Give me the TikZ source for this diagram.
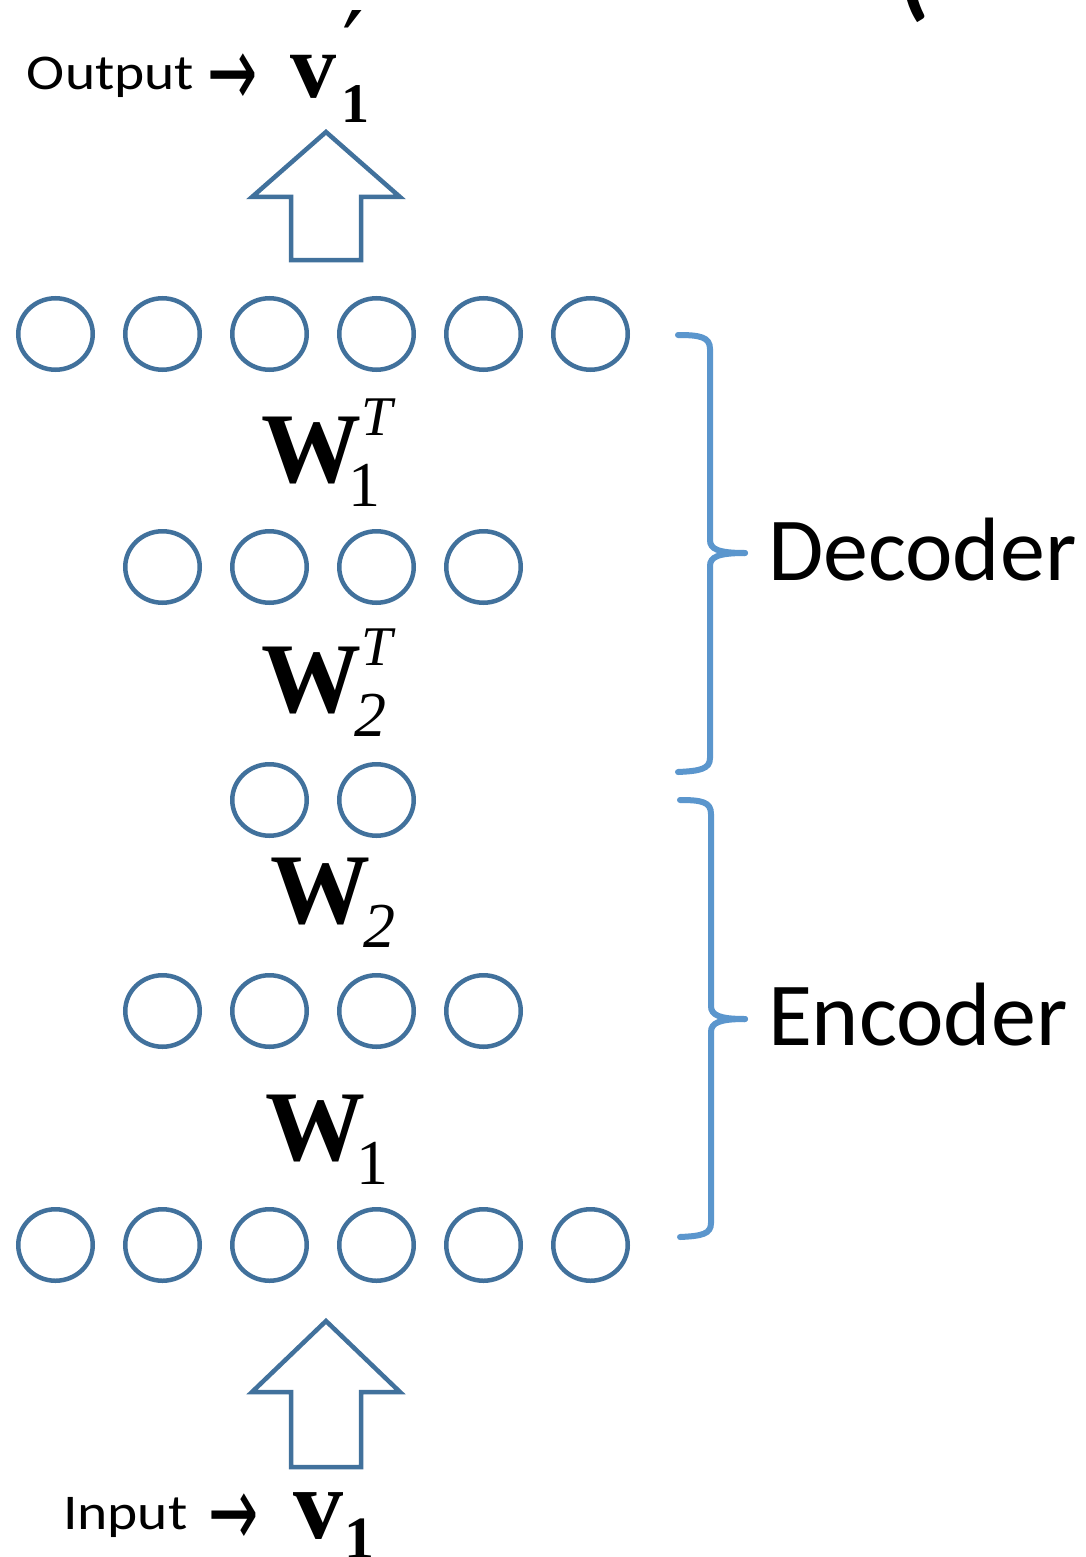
\documentclass[tikz,border=0pt]{standalone}
\usepackage{fontspec}
\usetikzlibrary{shapes.geometric}
\setmainfont{Carlito}
\newfontfamily\serifmath{Liberation Serif}
\newfontfamily\primefont{DejaVu Serif}
\newfontfamily\arrowsym{DejaVu Sans}
\definecolor{unitblue}{RGB}{65,113,156}
\definecolor{braceblue}{RGB}{91,150,205}

% bold weight matrix with optional transpose mark and index
\newcommand\weightlabel[3]{{\serifmath\fontsize{100}{100}\selectfont\bfseries W\mdseries
  \rlap{\raisebox{47pt}{\fontsize{56}{56}\selectfont\itshape #2}}%
  \kern#3\raisebox{-24pt}{\fontsize{64}{64}\selectfont #1}}}
% the arrow that follows "Output" and "Input"
\newcommand\pointer{{\arrowsym\fontsize{50}{50}\selectfont
  \raisebox{-17pt}{\scalebox{1.2}[2.0]{→}}}}

\begin{document}
\begin{tikzpicture}[x=1pt,y=-1pt,
  unit/.style={ellipse,draw=unitblue,line width=4.5pt,minimum width=74.5pt,
    minimum height=71.5pt,inner sep=0pt},
  blockarrow/.style={draw=unitblue,fill=white,line width=4.5pt,line join=miter},
  bracket/.style={draw=braceblue,line width=6pt,line cap=round},
  txt/.style={anchor=base west,inner sep=0pt,outer sep=0pt}]
\useasboundingbox[fill=white] (0,0) rectangle (1086,1557);

% layers of units
\foreach \i in {1,...,6} \node[unit] (out\i) at ({55.5+107*(\i-1)},334) {};
\foreach \i in {2,...,5} \node[unit] (dec\i) at ({55.5+107*(\i-1)},567) {};
\foreach \i in {3,4}     \node[unit] (code\i) at ({55.5+107*(\i-1)},800) {};
\foreach \i in {2,...,5} \node[unit] (enc\i) at ({55.5+107*(\i-1)},1011) {};
\foreach \i in {1,...,6} \node[unit] (in\i) at ({55.5+107*(\i-1)},1245) {};

% weight labels between layers
\node[txt] (w1t) at (261,482)  {\weightlabel{1}{T}{-13pt}};
\node[txt] (w2t) at (261,712)  {\weightlabel{\itshape 2}{T}{-7pt}};
\node[txt] (w2)  at (270,923)  {\weightlabel{\itshape 2}{}{-7pt}};
\node[txt] (w1)  at (265,1160) {\weightlabel{1}{}{-9pt}};

% block arrows into and out of the network
\draw[blockarrow] (326,132) -- (400,197) -- (361,197) -- (361,260)
  -- (291,260) -- (291,197) -- (252,197) -- cycle;
\draw[blockarrow] (326,1321) -- (400,1392) -- (361,1392) -- (361,1467)
  -- (291,1467) -- (291,1392) -- (252,1392) -- cycle;

% output and input vectors
\node[txt] (outlabel) at (27,90) {\fontsize{50}{50}\selectfont
  \scalebox{1.15}[1]{Output}\hspace{13pt}\pointer};
\node[txt] (vout) at (290,98) {\serifmath\fontsize{92}{92}\selectfont\bfseries v\kern5pt
  \rlap{\raisebox{17pt}{\kern1pt\mdseries\primefont\fontsize{96}{96}\selectfont ′}}%
  \raisebox{-25pt}{\fontsize{56}{56}\selectfont 1}};
\node[txt] (inlabel) at (63,1529) {\fontsize{50}{50}\selectfont
  \scalebox{1.15}[1]{Input}\hspace{21pt}\pointer};
\node[txt] (vin) at (293,1538) {\serifmath\fontsize{100}{100}\selectfont\bfseries v\kern1pt
  \raisebox{-20pt}{\fontsize{60}{60}\selectfont 1}};

% decoder bracket
\coordinate (dtop) at (678,335);
\coordinate (dtip) at (745,553);
\coordinate (dbot) at (678,772);
\draw[bracket] (dtop) .. controls (700,335) and (710,337) .. (710,349) -- (710,540)
  .. controls (710,549) and (718,553) .. (dtip);
\draw[bracket] (dtip) .. controls (718,553) and (710,557) .. (710,566) -- (710,758)
  .. controls (710,769) and (700,771) .. (dbot);
\node[txt] (declabel) at (768,580) {\fontsize{90}{90}\selectfont Decoder};

% encoder bracket
\coordinate (etop) at (680,800);
\coordinate (etip) at (745,1019);
\coordinate (ebot) at (680,1237);
\draw[bracket] (etop) .. controls (702,800) and (711,802) .. (711,814) -- (711,1006)
  .. controls (711,1015) and (719,1019) .. (etip);
\draw[bracket] (etip) .. controls (719,1019) and (711,1023) .. (711,1032) -- (711,1223)
  .. controls (711,1234) and (702,1236) .. (ebot);
\node[txt] (enclabel) at (768,1045) {\fontsize{90}{90}\selectfont Encoder};

% bracket at the top edge
\node[txt] (paren) at (898,8) {\fontsize{100}{100}\selectfont\bfseries (};
\end{tikzpicture}
\end{document}
